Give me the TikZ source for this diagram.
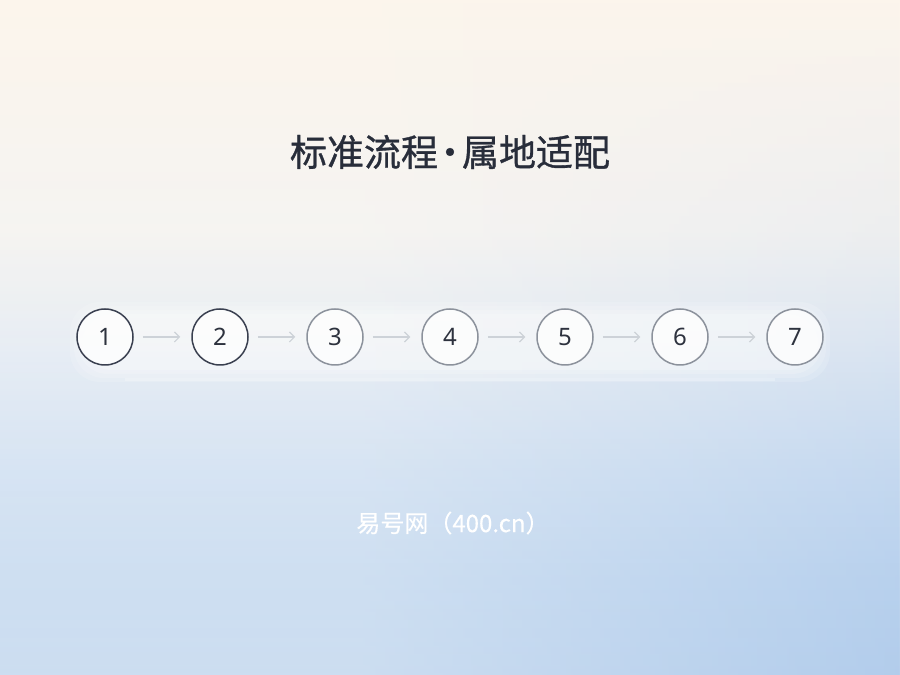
\documentclass[tikz,border=0pt]{standalone}
\usepackage{fontspec}
\newfontfamily\cjk{Noto Sans CJK SC}
\newfontfamily\cjkm{Noto Sans CJK SC}[FakeBold=0.9]
\newfontfamily\cjkf{Noto Sans CJK SC}[FakeBold=0.4]
\newfontfamily\numfont{Noto Sans}
\usetikzlibrary{arrows.meta,fadings}
\definecolor{bgA}{RGB}{182,207,235}
\definecolor{bgA2}{RGB}{189,212,237}
\definecolor{bgB}{RGB}{204,221,240}
\definecolor{bgC}{RGB}{229,235,242}
\definecolor{bgD}{RGB}{245,243,240}
\definecolor{bgE}{RGB}{252,245,236}
\definecolor{darkring}{RGB}{58,64,80}
\definecolor{grayring}{RGB}{140,146,156}
\definecolor{arrowgray}{RGB}{205,210,216}
\definecolor{titlecol}{RGB}{40,45,58}
\definecolor{numcol}{RGB}{45,50,62}
\definecolor{rightblue}{RGB}{170,200,238}
\pgfdeclareverticalshading{bgshade}{100bp}{%
  color(0bp)=(bgA); color(25bp)=(bgA); color(32bp)=(bgA2); color(40bp)=(bgB); color(50bp)=(bgC);
  color(58bp)=(bgD); color(75bp)=(bgE); color(100bp)=(bgE)}
\pgfdeclarehorizontalshading{sideshade}{100bp}{%
  color(0bp)=(white); color(25bp)=(white); color(45bp)=(white); color(75bp)=(rightblue); color(100bp)=(rightblue)}
\tikzset{
  stepcircle/.style={circle, minimum size=56pt, inner sep=0pt, line width=1.5pt,
    fill=white, fill opacity=0.75, text opacity=1, font=\numfont\fontsize{24}{24}\selectfont, text=numcol},
  darkstep/.style={stepcircle, draw=darkring},
  graystep/.style={stepcircle, draw=grayring},
  flowarrow/.style={draw=arrowgray, line width=1.2pt, -{Straight Barb[length=5pt,width=10pt]},
    shorten <=9pt, shorten >=11pt}
}
\begin{document}
\begin{tikzpicture}[x=1pt,y=1pt]
\useasboundingbox (0,0) rectangle (900,675);
\shade[shading=bgshade] (0,0) rectangle (900,675);
\begin{scope}[opacity=0.3]
\shade[shading=sideshade, path fading=north] (0,0) rectangle (900,675);
\end{scope}
% glow band
\foreach \k/\o in {0/0.15,4/0.15,8/0.18,12/0.22}{
  \fill[white, opacity=\o, rounded corners=30pt] (70+\k,293+\k) rectangle (830-\k,373-\k);
}
\fill[white, opacity=0.25] (125,294) rectangle (775,296.5);
% title
\node[font=\cjkm\fontsize{37}{37}\selectfont, text=titlecol] (title) at (450,523) {标准流程\makebox[0.65em]{·}属地适配};
% steps
\node[darkstep] (s1) at (105,338) {1};
\node[darkstep] (s2) at (220,338) {2};
\node[graystep] (s3) at (335,338) {3};
\node[graystep] (s4) at (450,338) {4};
\node[graystep] (s5) at (565,338) {5};
\node[graystep] (s6) at (680,338) {6};
\node[graystep] (s7) at (795,338) {7};
\foreach \a/\b in {s1/s2,s2/s3,s3/s4,s4/s5,s5/s6,s6/s7}{
  \draw[flowarrow] (\a.east) -- (\b.west);
}
% footer
\node[font=\cjkf\fontsize{24}{24}\selectfont, text=white] (footer) at (453,152) {易号网（400.cn）};
\end{tikzpicture}
\end{document}
